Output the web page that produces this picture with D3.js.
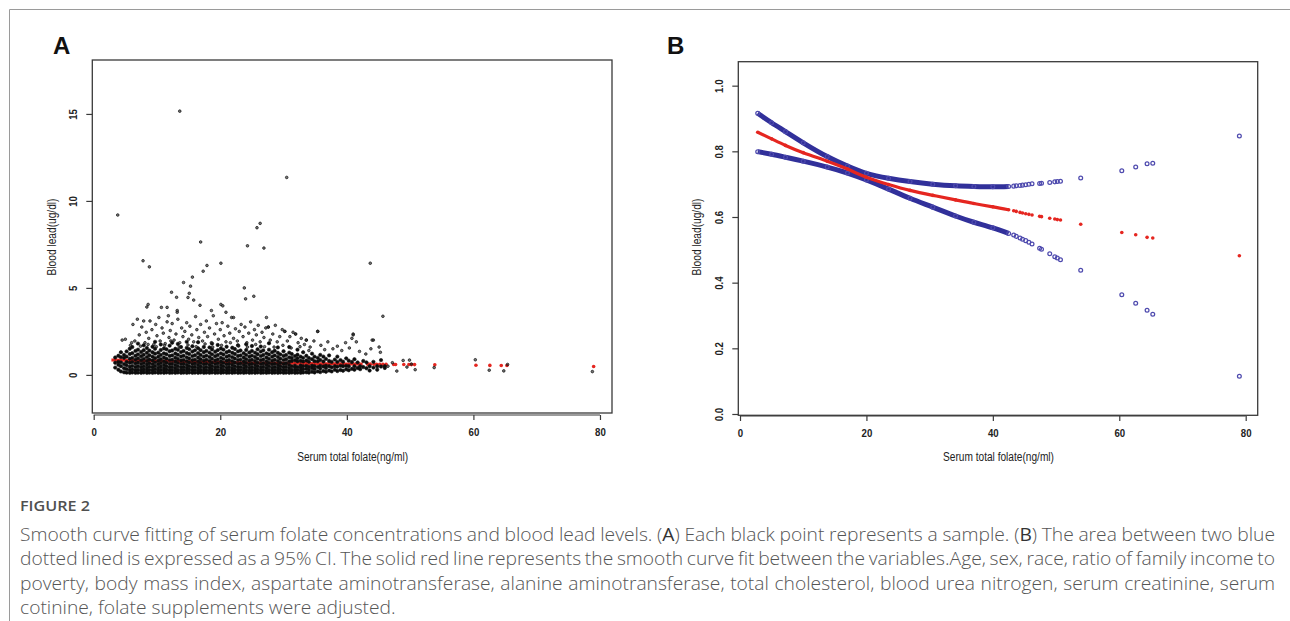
<!DOCTYPE html>
<html><head><meta charset="utf-8">
<script src="https://cdn.jsdelivr.net/npm/d3@7"></script>
<style>html,body{margin:0;padding:0;background:#fff;} svg{display:block;}</style>
</head><body>
<svg id="c" width="1290" height="621"></svg>
<script>
// ---------------- DATA ----------------
const xTicks = [0, 20, 40, 60, 80];
const yTicksA = [0, 5, 10, 15];
const yTicksB = [0, 0.2, 0.4, 0.6, 0.8, 1.0];
const xTitle = "Serum total folate(ng/ml)";
const yTitle = "Blood lead(ug/dl)";

// Panel A: dense core of samples, columns [x, y1, y2, ...]
const coreCols = [
[3.4,0.42,0.7,1.0],[3.9,0.3,0.58,0.75,1.1],[4.3,0.2,0.5,0.72,1.02,1.3],[4.8,0.15,0.38,0.62,0.98,1.15],
[5.2,0.13,0.33,0.55,0.74,1.05,1.35],[5.7,0.12,0.28,0.47,0.7,0.93,1.2,1.5],[6.1,0.14,0.32,0.52,0.74,0.98,1.25,1.6],
[6.6,0.12,0.27,0.45,0.66,0.88,1.1,1.38],[7.0,0.13,0.3,0.5,0.71,0.95,1.18,1.45,1.8],[7.5,0.12,0.26,0.43,0.63,0.84,1.07,1.32],
[7.9,0.14,0.31,0.49,0.69,0.92,1.16,1.42,1.7],[8.4,0.12,0.25,0.41,0.6,0.8,1.02,1.27,1.55],[8.8,0.13,0.29,0.47,0.67,0.89,1.13,1.4],
[9.3,0.12,0.27,0.44,0.62,0.83,1.05,1.3,1.62],[9.7,0.14,0.32,0.51,0.72,0.96,1.22,1.5,1.9],[10.2,0.12,0.26,0.42,0.61,0.81,1.04,1.28],
[10.6,0.13,0.3,0.48,0.68,0.9,1.15,1.43,1.75],[11.1,0.12,0.25,0.4,0.58,0.78,1.0,1.24,1.52],[11.5,0.14,0.31,0.5,0.7,0.93,1.19,1.47],
[12.0,0.12,0.27,0.44,0.63,0.85,1.09,1.36,1.68],[12.4,0.13,0.29,0.46,0.65,0.87,1.12,1.4,1.85],[12.9,0.12,0.24,0.39,0.57,0.77,0.99,1.23,1.5],
[13.3,0.14,0.3,0.49,0.69,0.91,1.16,1.44,1.78],[13.8,0.12,0.26,0.43,0.62,0.83,1.06,1.31,1.6],[14.2,0.13,0.28,0.45,0.64,0.86,1.1,1.37],
[14.7,0.12,0.25,0.41,0.59,0.79,1.01,1.26,1.55,1.9],[15.1,0.14,0.31,0.5,0.71,0.94,1.2,1.48],[15.6,0.12,0.27,0.44,0.63,0.84,1.08,1.34,1.65],
[16.0,0.13,0.29,0.47,0.66,0.88,1.13,1.41],[16.5,0.12,0.24,0.4,0.58,0.78,1.0,1.25,1.53,1.88],[16.9,0.14,0.3,0.48,0.68,0.9,1.14,1.42],
[17.4,0.12,0.26,0.42,0.61,0.82,1.05,1.3,1.6],[17.8,0.13,0.28,0.46,0.65,0.87,1.11,1.38],[18.3,0.12,0.25,0.41,0.59,0.8,1.03,1.28,1.58],
[18.7,0.14,0.31,0.5,0.7,0.93,1.18,1.46,1.8],[19.2,0.12,0.27,0.43,0.62,0.83,1.07,1.33],[19.6,0.13,0.29,0.47,0.67,0.89,1.14,1.42,1.72],
[20.1,0.12,0.24,0.39,0.57,0.77,0.99,1.24,1.52],[20.5,0.14,0.3,0.49,0.69,0.92,1.17,1.45],[21.0,0.12,0.26,0.42,0.61,0.82,1.05,1.3,1.62],
[21.4,0.13,0.28,0.45,0.64,0.86,1.1,1.36],[21.9,0.12,0.25,0.4,0.58,0.79,1.02,1.27,1.56],[22.3,0.14,0.31,0.5,0.71,0.94,1.2,1.49],
[22.8,0.12,0.27,0.44,0.63,0.85,1.09,1.35,1.7],[23.2,0.13,0.29,0.46,0.66,0.88,1.12,1.4],[23.7,0.12,0.24,0.39,0.57,0.77,1.0,1.25],
[24.1,0.14,0.3,0.48,0.68,0.9,1.15,1.43,1.76],[24.6,0.12,0.26,0.42,0.6,0.81,1.04,1.29],[25.0,0.13,0.28,0.45,0.65,0.87,1.11,1.38,1.66],
[25.5,0.12,0.25,0.41,0.59,0.8,1.03,1.28],[25.9,0.14,0.31,0.5,0.7,0.93,1.19,1.47],[26.4,0.12,0.27,0.43,0.62,0.84,1.08,1.34,1.63],
[26.8,0.13,0.29,0.47,0.67,0.89,1.14,1.41],[27.3,0.12,0.24,0.4,0.58,0.78,1.0,1.24],[27.7,0.14,0.3,0.49,0.69,0.92,1.17,1.45,1.82],
[28.2,0.12,0.26,0.42,0.61,0.82,1.05,1.3],[28.6,0.13,0.28,0.46,0.65,0.87,1.12,1.39],[29.1,0.12,0.25,0.41,0.59,0.8,1.03,1.27,1.58],
[29.5,0.14,0.31,0.5,0.7,0.93,1.18],[30.0,0.12,0.27,0.44,0.63,0.85,1.09,1.36],[30.4,0.13,0.29,0.47,0.67,0.9,1.15],
[30.9,0.12,0.24,0.39,0.57,0.78,1.01,1.28,1.6],[31.3,0.14,0.3,0.49,0.8,0.97,1.2],[31.8,0.12,0.26,0.43,0.53,0.84,1.08],
[32.2,0.13,0.29,0.45,0.78,0.95,1.16,1.45],[32.7,0.12,0.25,0.41,0.54,0.81,1.05],[33.1,0.14,0.32,0.5,0.77,0.98,1.3],
[33.6,0.15,0.35,0.52,0.83,1.1],[34.0,0.13,0.3,0.47,0.76,0.97],[34.5,0.18,0.4,0.53,0.9,1.22],[34.9,0.14,0.33,0.5,0.79,1.05],
[35.4,0.2,0.45,0.78,0.98],[35.8,0.16,0.37,0.52,0.86,1.15],[36.3,0.22,0.48,0.77,1.05],[36.7,0.18,0.4,0.53,0.92],
[37.2,0.25,0.5,0.8,1.12],[37.6,0.2,0.44,0.75],[38.1,0.3,0.5,0.88],[38.5,0.22,0.47,0.75,1.05],[39.0,0.28,0.52,0.85],
[39.4,0.24,0.5,0.76],[39.9,0.32,0.52,0.95],[40.3,0.27,0.5,0.82],[40.8,0.35,0.74],[41.2,0.3,0.5,0.9],[41.7,0.4,0.72],
[42.1,0.33,0.5],[42.6,0.45,0.8],[43.1,0.38,0.72],[43.6,0.5,0.25],[44.2,0.42,0.75],[44.8,0.5,0.3],[45.4,0.48,0.85],[46.0,0.5,0.4]
];
// Panel A: scattered samples above the core
const upperPts = [
[4.5,2.0],[5.0,2.05],[5.8,1.7],[6.2,2.9],[6.5,1.95],[6.9,3.2],[7.2,2.3],[7.6,2.75],[7.9,3.1],[8.1,1.85],[8.3,2.45],[8.7,2.1],
[8.9,3.1],[9.2,2.6],[9.5,1.75],[9.8,2.9],[10.0,2.25],[10.3,3.3],[10.5,1.95],[10.8,2.7],[11.0,2.4],[11.3,1.8],[11.6,3.05],[11.9,2.15],
[12.1,2.55],[12.4,2.95],[12.7,2.0],[13.0,2.35],[13.3,3.2],[13.6,1.85],[13.9,2.7],[14.1,2.2],[14.4,2.5],[14.7,3.0],[15.0,2.05],[15.2,2.8],
[15.5,2.3],[15.8,1.9],[16.1,3.35],[16.3,2.6],[16.6,2.15],[16.9,2.9],[17.2,1.95],[17.5,2.45],[17.8,3.1],[18.0,2.2],[18.3,2.7],[18.6,1.85],
[18.9,3.4],[19.1,2.35],[19.4,2.95],[19.7,2.05],[20.0,2.6],[20.3,3.0],[20.6,2.25],[20.9,1.9],[21.2,2.8],[21.5,2.4],[21.8,3.3],[22.1,2.1],
[22.4,2.65],[22.7,1.95],[23.0,2.5],[23.3,2.9],[23.6,2.2],[23.9,2.75],[24.2,1.85],[24.5,2.4],[24.8,3.05],[25.1,2.0],[25.4,2.6],[25.7,2.3],
[26.0,2.85],[26.3,1.9],[26.6,2.45],[26.9,2.15],[27.2,2.7],[27.6,2.75],[27.9,2.0],[28.3,2.35],[28.7,2.85],[29.0,1.9],[29.4,2.2],[29.8,2.6],
[30.2,2.5],[30.6,1.95],[31.0,2.2],[31.5,2.45],[31.9,2.35],[32.3,1.85],[32.8,2.1],[33.3,1.75],[33.6,2.0],[34.2,1.6],[34.8,1.95],[35.4,2.5],
[35.9,1.7],[36.5,1.45],[37.0,1.9],[37.8,1.5],[38.5,1.65],[39.2,1.4],[39.8,1.85],[40.4,1.55],[40.8,2.1],[41.0,2.35],[41.5,1.9],[42.0,1.35],
[43.0,1.2],[43.8,1.5],[44.2,2.0],[45.1,1.6],[45.3,1.3],
[6.0,1.85],[7.4,1.65],[8.6,1.75],[9.9,1.62],[11.2,1.7],[12.2,1.95],[13.5,1.6],[14.9,1.72],[16.2,1.62],[17.6,1.78],[18.8,1.6],
[20.2,1.7],[21.6,1.85],[22.9,1.66],[24.3,1.6],[25.6,1.75],[27.0,1.62],[28.5,1.6],[29.9,1.7],[31.2,1.55],[32.6,1.62],[34.0,1.4]
];
// Panel A: isolated high values
const outlierPts = [
[13.6,15.16],[30.5,11.35],[3.8,9.19],[26.3,8.71],[25.8,8.46],[16.9,7.64],[24.3,7.42],[26.9,7.29],[7.8,6.56],[8.8,6.21],
[17.9,6.29],[17.3,5.96],[20.1,6.42],[43.7,6.42],[15.6,5.62],[14.2,5.31],[15.3,5.1],[23.8,5.0],[12.3,4.75],[15.1,4.69],
[13.1,4.46],[25.3,4.52],[14.9,4.45],[24.0,4.37],[15.8,4.3],[45.7,3.37],[8.6,4.05],[8.4,3.9],[16.8,4.0],[20.1,4.05],
[20.4,3.97],[10.7,3.88],[11.6,3.88],[13.2,3.7],[13.2,3.6],[18.6,3.7],[20.9,3.6],[22.1,3.3],[27.3,3.3],[11.8,3.4],
[41.0,2.3],[44.0,2.0],[33.6,2.0],[35.4,2.5],[31.9,2.35],[30.2,2.5],[27.6,2.75]
];
// Panel A: samples at high folate
const tailPts = [
[46.5,0.5],[47.2,0.7],[47.9,0.22],[48.9,0.83],[49.5,0.45],[49.9,0.85],[50.2,0.62],[50.8,0.3],[53.8,0.42],
[60.3,0.87],[62.5,0.27],[64.8,0.23],[65.4,0.6],[78.8,0.19]
];

// Smooth fit and 95% CI (panel B, also red line in panel A)
const fitX     = [2.8, 5, 7.2, 10, 13.8, 17, 20, 23.5, 26.9, 30.5, 34.1, 37, 40, 42.5];
const fitY     = [0.858,0.838,0.818,0.796,0.770,0.746,0.721,0.699,0.681,0.666,0.652,0.641,0.631,0.622];
const upperY   = [0.916,0.887,0.86,0.826,0.784,0.755,0.733,0.718,0.708,0.700,0.695,0.693,0.692,0.693];
const lowerY   = [0.799,0.791,0.782,0.770,0.752,0.734,0.713,0.685,0.657,0.630,0.603,0.584,0.567,0.55];
const sparseX  = [43.3,43.7,44.3,44.7,45.2,45.7,46.2,47.4,47.7,49.0,49.8,50.2,50.7,53.9,60.4,62.6,64.4,65.3,79.0];
const sparseFit= [0.619,0.617,0.614,0.612,0.61,0.608,0.606,0.602,0.601,0.596,0.594,0.592,0.591,0.578,0.553,0.546,0.538,0.536,0.482];
const sparseUp = [0.694,0.695,0.696,0.697,0.698,0.700,0.701,0.702,0.703,0.705,0.707,0.708,0.709,0.719,0.741,0.752,0.762,0.764,0.847];
const sparseLo = [0.545,0.541,0.536,0.532,0.528,0.523,0.518,0.505,0.502,0.488,0.479,0.475,0.470,0.438,0.363,0.337,0.316,0.304,0.115];

const caption = [
 "Smooth curve fitting of serum folate concentrations and blood lead levels. (A) Each black point represents a sample. (B) The area between two blue",
 "dotted lined is expressed as a 95% CI. The solid red line represents the smooth curve fit between the variables.Age, sex, race, ratio of family income to",
 "poverty, body mass index, aspartate aminotransferase, alanine aminotransferase, total cholesterol, blood urea nitrogen, serum creatinine, serum",
 "cotinine, folate supplements were adjusted."
];

// ---------------- DRAW ----------------
const svg = d3.select('#c');
const FONT = "'Liberation Sans', Arial, Helvetica, sans-serif";
const NARROW = 0.84;
const RED = '#e52620', BLUE_BAND = '#31309a', BLUE_PT = '#4e4aae';

// figure frame
svg.append('line').attr('x1',9.5).attr('y1',9.5).attr('x2',1290).attr('y2',9.5).attr('stroke','#9a9a9a');
svg.append('line').attr('x1',9.5).attr('y1',9.5).attr('x2',9.5).attr('y2',621).attr('stroke','#9a9a9a');

function frame(g, x, y, yTicks, yFmt, axisY, yTitleX, label, labelX) {
  const [x0, x1] = x.range(), [y1, y0] = y.range();
  g.append('rect').attr('x', x0).attr('y', y0).attr('width', x1 - x0).attr('height', y1 - y0)
    .attr('fill', 'none').attr('stroke', '#3a3a3a').attr('stroke-width', 1.3);
  const xa = g.append('g').attr('transform', `translate(0,${axisY})`)
    .call(d3.axisBottom(x).tickValues(xTicks).tickSize(5).tickPadding(7.5).tickFormat(d3.format('d')));
  xa.select('.domain').remove();
  xa.append('line').attr('x1', x(xTicks[0])).attr('x2', x(xTicks[xTicks.length-1])).attr('stroke', '#3a3a3a').attr('stroke-width', 1.2);
  xa.selectAll('.tick line').attr('stroke', '#3a3a3a').attr('stroke-width', 1.2);
  xa.selectAll('text').attr('font-family', FONT).attr('font-weight', 'bold').attr('font-size', 11.5)
    .attr('fill', '#222').attr('transform', `scale(${NARROW},1)`);
  const ya = g.append('g').attr('transform', `translate(${x0},0)`)
    .call(d3.axisLeft(y).tickValues(yTicks).tickSize(6).tickFormat(yFmt));
  ya.select('.domain').remove();
  ya.selectAll('.tick line').attr('stroke', '#3a3a3a').attr('stroke-width', 1.2);
  ya.selectAll('text').attr('x', 0).attr('dy', 0).attr('text-anchor', 'middle')
    .attr('font-family', FONT).attr('font-weight', 'bold').attr('font-size', 11.5).attr('fill', '#222')
    .attr('transform', `translate(-15,0) rotate(-90) scale(${NARROW},1)`);
  g.append('text').text(xTitle).attr('text-anchor', 'middle').attr('font-family', FONT).attr('font-size', 12.5)
    .attr('fill', '#222').attr('textLength', 111).attr('lengthAdjust', 'spacingAndGlyphs')
    .attr('transform', `translate(${(x0 + x1) / 2 + 0.5},460.5)`);
  g.append('text').text(yTitle).attr('text-anchor', 'middle').attr('font-family', FONT).attr('font-size', 12.5)
    .attr('fill', '#222').attr('textLength', 77).attr('lengthAdjust', 'spacingAndGlyphs')
    .attr('transform', `translate(${yTitleX},237) rotate(-90)`);
  g.append('text').text(label).attr('x', labelX).attr('y', 54).attr('font-family', FONT)
    .attr('font-weight', 'bold').attr('font-size', 24).attr('fill', '#111');
}

const zip = (xs, ys) => xs.map((v, i) => [v, ys[i]]);

// ---- Panel A ----
const xA = d3.scaleLinear().domain([-0.22, 81.9]).range([92.3, 612]);
const yA = d3.scaleLinear().domain([-2.19, 18.1]).range([413, 60]);
const gA = svg.append('g');
const lineA = d3.line().x(d => xA(d[0])).y(d => yA(d[1])).curve(d3.curveNatural);
gA.append('path').attr('d', lineA(zip(fitX, fitY))).attr('fill', 'none').attr('stroke', RED).attr('stroke-width', 3);
gA.selectAll('circle.fa').data(zip(sparseX, sparseFit)).join('circle').attr('class', 'fa')
  .attr('cx', d => xA(d[0])).attr('cy', d => yA(d[1])).attr('r', 1.8).attr('fill', RED);
const corePts = [];
coreCols.forEach(c => c.slice(1).forEach(v => corePts.push([c[0], v])));
gA.append('g').selectAll('circle').data(corePts).join('circle')
  .attr('cx', d => xA(d[0])).attr('cy', d => yA(d[1])).attr('r', 1.7)
  .attr('fill', '#0d0d0d').attr('stroke', '#0d0d0d').attr('stroke-width', 0.6);
gA.append('g').selectAll('circle').data(upperPts.concat(outlierPts, tailPts)).join('circle')
  .attr('cx', d => xA(d[0])).attr('cy', d => yA(d[1])).attr('r', 1.3)
  .attr('fill', 'rgba(30,30,30,0.6)').attr('stroke', '#1a1a1a').attr('stroke-width', 0.8);
frame(gA, xA, yA, yTicksA, d3.format('d'), 415, 55.5, 'A', 53);

// ---- Panel B ----
const xB = d3.scaleLinear().domain([-0.27, 81.9]).range([738.3, 1257.7]);
const yB = d3.scaleLinear().domain([-0.004, 1.073]).range([415.3, 61.7]);
const gB = svg.append('g');
const lineB = d3.line().x(d => xB(d[0])).y(d => yB(d[1])).curve(d3.curveNatural);
[upperY, lowerY].forEach(ys => {
  gB.append('path').attr('d', lineB(zip(fitX, ys))).attr('fill', 'none').attr('stroke', BLUE_BAND).attr('stroke-width', 5);
});
[[fitX, upperY], [fitX, lowerY], [sparseX, sparseUp], [sparseX, sparseLo]].forEach(([xs, ys]) => {
  gB.append('g').selectAll('circle').data(zip(xs, ys)).join('circle')
    .attr('cx', d => xB(d[0])).attr('cy', d => yB(d[1])).attr('r', 1.9)
    .attr('fill', 'none').attr('stroke', BLUE_PT).attr('stroke-width', 1.25);
});
gB.append('path').attr('d', lineB(zip(fitX, fitY))).attr('fill', 'none').attr('stroke', RED).attr('stroke-width', 3.2);
gB.append('g').selectAll('circle').data(zip(fitX, fitY).concat(zip(sparseX, sparseFit))).join('circle')
  .attr('cx', d => xB(d[0])).attr('cy', d => yB(d[1])).attr('r', 1.8).attr('fill', RED);
frame(gB, xB, yB, yTicksB, d3.format('.1f'), 416, 700.5, 'B', 667);

// ---- Caption ----
const CAPFONT = "'Open Sans', 'Noto Sans', sans-serif";
svg.append('text').text('FIGURE 2').attr('x', 20).attr('y', 511).attr('font-family', CAPFONT)
  .attr('font-weight', 600).attr('font-size', 13.5).attr('fill', '#505050')
  .attr('textLength', 70).attr('lengthAdjust', 'spacingAndGlyphs');
const baselines = [540.5, 565, 589.5, 614];
const capTexts = caption.map((str, i) => {
  const t = svg.append('text').attr('font-family', CAPFONT).attr('font-weight', 300)
    .attr('font-size', 17.5).attr('fill', '#555');
  str.split(/(\([AB]\))/).forEach(part => {
    if (/^\([AB]\)$/.test(part)) {
      t.append('tspan').text('(');
      t.append('tspan').attr('font-weight', 500).attr('fill', '#333').text(part[1]);
      t.append('tspan').text(')');
    } else if (part) t.append('tspan').text(part);
  });
  return t;
});
const natLast = capTexts[3].node().getComputedTextLength();
let s = 376 / natLast; s = Math.max(0.7, Math.min(1.1, s));
capTexts.forEach((t, i) => {
  t.attr('transform', `translate(20,${baselines[i]}) scale(${s},1)`);
  if (i < 3) {
    const nat = t.node().getComputedTextLength();
    const spaces = (caption[i].match(/ /g) || []).length;
    const ws = (1255 / s - nat) / spaces;
    t.attr('word-spacing', ws);
  }
});
</script>
</body></html>
